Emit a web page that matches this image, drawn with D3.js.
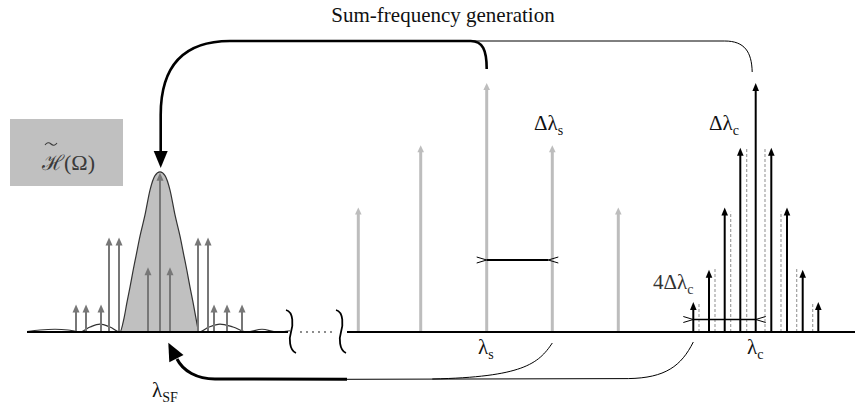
<!DOCTYPE html>
<html>
<head>
<meta charset="utf-8">
<script src="https://cdn.jsdelivr.net/npm/d3@7"></script>
<style>
  body { margin: 0; background: #fff; }
</style>
</head>
<body>
<div id="chart"></div>
<script>
var W = 855, H = 407;

// sum-frequency comb (grey), positions along axis and relative heights
var sfPos = [76, 86, 101, 109, 119, 148, 160, 170, 198, 208, 214, 227, 242];
var sfAmp = [0.11, 0.11, 0.11, 0.38, 0.38, 0.26, 0.64, 0.26, 0.38, 0.38, 0.11, 0.11, 0.11];
var sfCenter = 160;
// filter envelope H(Omega): offset from centre, relative height
var envOffset = [-133, -120, -105, -92, -80, -70, -60, -50, -40, -36, -33, -30, -27, -24, -20, -15, -10, -5, 0,
                 5, 10, 15, 20, 24, 27, 30, 33, 36, 39, 49, 60, 73, 87, 102, 117, 130];
var envAmp = [0.002, 0.008, 0.011, 0.008, 0, 0.02, 0.032, 0.02, 0, 0.055, 0.12, 0.18, 0.245, 0.305, 0.385, 0.47, 0.57, 0.628, 0.643,
              0.628, 0.57, 0.47, 0.385, 0.305, 0.245, 0.18, 0.12, 0.055, 0, 0.02, 0.032, 0.02, 0, 0.011, 0, 0.005];
// signal lines (light grey)
var sigPos = [358.3, 420.7, 486.7, 552.3, 618.3];
var sigAmp = [0.5, 0.75, 1, 0.75, 0.5];
// control comb (black)
var combPos = [693.3, 709, 724.7, 740.3, 755.7, 771.3, 787, 802.7, 818.3];
var combAmp = [0.12, 0.25, 0.5, 0.74, 1, 0.74, 0.5, 0.25, 0.12];
// shifted comb (dashed)
var dashPos = [699, 715, 730.7, 746.7, 765, 781, 796.7, 812.7];
var dashAmp = [0.116, 0.253, 0.483, 0.743, 0.743, 0.483, 0.253, 0.116];
// axis pieces and break
var axisSegs = [[27, 288], [347, 855]];
var breakPos = [291, 341];
var dotPos = [301, 307, 313, 319, 325, 331];

// pick a serif face that is really installed
function pickFont(list) {
  var c = document.createElement('canvas').getContext('2d');
  var probe = 'Sum-frequency generation Δλ';
  c.font = '40px monospace';
  var base = c.measureText(probe).width;
  for (var i = 0; i < list.length; i++) {
    c.font = '40px "' + list[i] + '", monospace';
    if (Math.abs(c.measureText(probe).width - base) > 0.5) return '"' + list[i] + '"';
  }
  return 'serif';
}
var SERIF = pickFont(['Liberation Serif', 'Times New Roman', 'Tinos', 'DejaVu Serif', 'Noto Serif', 'FreeSerif', 'Nimbus Roman', 'Times']) + ', serif';

var x = d3.scaleLinear().domain([0, W]).range([0, W]);
var y = d3.scaleLinear().domain([0, 1]).range([332, 83]);
var y0 = y(0);

var svg = d3.select('#chart').append('svg')
  .attr('width', W).attr('height', H)
  .attr('font-family', SERIF);

// envelope
var envPts = envOffset.map(function(o, i) { return [sfCenter + o, envAmp[i]]; });
var mainLobe = envPts.filter(function(p) { return p[0] >= sfCenter - 40 && p[0] <= sfCenter + 39; });
svg.append('path')
  .datum(mainLobe)
  .attr('d', d3.area().x(function(d) { return x(d[0]); }).y0(y0).y1(function(d) { return y(d[1]); }).curve(d3.curveMonotoneX))
  .style('fill', '#c0c0c0');
svg.append('path')
  .datum(envPts)
  .attr('d', d3.line().x(function(d) { return x(d[0]); }).y(function(d) { return y(d[1]); }).curve(d3.curveMonotoneX))
  .style('fill', 'none').style('stroke', '#333').style('stroke-width', 1.2);

// generic arrow helper
function arrows(pos, amp, color, sw, hl, hw) {
  var g = svg.append('g');
  pos.forEach(function(p, i) {
    var tx = x(p), ty = y(amp[i]);
    g.append('line')
      .attr('x1', tx).attr('x2', tx)
      .attr('y1', y0).attr('y2', ty + hl - 1)
      .style('stroke', color).style('stroke-width', sw);
    g.append('path')
      .attr('d', 'M' + tx + ',' + ty + 'L' + (tx - hw) + ',' + (ty + hl) + 'L' + (tx + hw) + ',' + (ty + hl) + 'Z')
      .style('fill', color);
  });
}

arrows(sfPos, sfAmp, '#777', 2, 8, 3.5);

// dashed shifted lines
svg.append('g').selectAll('line')
  .data(dashPos)
  .enter().append('line')
  .attr('x1', function(d) { return x(d); }).attr('x2', function(d) { return x(d); })
  .attr('y1', y0).attr('y2', function(d, i) { return y(dashAmp[i]); })
  .style('stroke', '#999').style('stroke-width', 1.1).style('stroke-dasharray', '3,2');

arrows(sigPos, sigAmp, '#bdbdbd', 3, 7, 3.3);
arrows(combPos, combAmp, '#000', 2, 8, 3.3);

// axis
axisSegs.forEach(function(s) {
  svg.append('line')
    .attr('x1', x(s[0])).attr('x2', x(s[1]))
    .attr('y1', y0).attr('y2', y0)
    .style('stroke', '#000').style('stroke-width', 2);
});
breakPos.forEach(function(b) {
  var bx = x(b);
  svg.append('path')
    .attr('d', 'M' + (bx - 5) + ',' + (y0 - 22) + 'C' + (bx + 3) + ',' + (y0 - 20) + ' ' + (bx + 2) + ',' + (y0 - 6) + ' ' + bx + ',' + y0 +
               'C' + (bx - 2) + ',' + (y0 + 6) + ' ' + (bx - 2) + ',' + (y0 + 18) + ' ' + (bx + 5) + ',' + (y0 + 21))
    .style('fill', 'none').style('stroke', '#000').style('stroke-width', 1.8);
});
svg.append('g').selectAll('circle')
  .data(dotPos)
  .enter().append('circle')
  .attr('cx', function(d) { return x(d); }).attr('cy', y0)
  .attr('r', 0.9).style('fill', '#555');

// spacing brackets
function bracket(a, b, yy, sw) {
  var xa = x(a), xb = x(b);
  svg.append('line').attr('x1', xa).attr('x2', xb).attr('y1', yy).attr('y2', yy)
    .style('stroke', '#000').style('stroke-width', sw);
  svg.append('path')
    .attr('d', 'M' + (xa - 10) + ',' + (yy - 3) + 'L' + xa + ',' + yy + 'L' + (xa - 10) + ',' + (yy + 3) +
               'M' + (xb + 10) + ',' + (yy - 3) + 'L' + xb + ',' + yy + 'L' + (xb + 10) + ',' + (yy + 3))
    .style('fill', 'none').style('stroke', '#000').style('stroke-width', 1);
}
bracket(sigPos[2], sigPos[3] - 4, 260, 2);
bracket(combPos[0], combPos[4], 319.5, 1.6);

// top process arrows
var sx = x(sigPos[2]), cx = x(combPos[4]) - 3, hx = x(sfCenter) + 0.7;
svg.append('path')
  .attr('d', 'M' + (cx - 0.5) + ',72 C' + (cx - 1) + ',52 ' + (cx - 8) + ',41 ' + (cx - 28) + ',41 L' + (sx - 16) + ',41')
  .style('fill', 'none').style('stroke', '#000').style('stroke-width', 1);
svg.append('path')
  .attr('d', 'M' + sx + ',69 C' + sx + ',50 ' + (sx - 4) + ',41 ' + (sx - 16) + ',41 L230,41 C185,41 ' + hx + ',65 ' + hx + ',115 L' + hx + ',153')
  .style('fill', 'none').style('stroke', '#000').style('stroke-width', 2.6);
svg.append('path')
  .attr('d', 'M' + hx + ',168 L' + (hx - 7) + ',151 L' + (hx + 7) + ',151 Z')
  .style('fill', '#000');

// bottom process arrows
var c0 = x(combPos[0]), s3 = x(sigPos[3]);
svg.append('path')
  .attr('d', 'M' + c0 + ',342 C' + (c0 - 12) + ',366 ' + (c0 - 28) + ',378 ' + (c0 - 65) + ',378.6 L347,379.3')
  .style('fill', 'none').style('stroke', '#000').style('stroke-width', 1);
svg.append('path')
  .attr('d', 'M' + s3 + ',343 C' + (s3 - 14) + ',364 ' + (s3 - 30) + ',377 ' + (s3 - 120) + ',379')
  .style('fill', 'none').style('stroke', '#000').style('stroke-width', 1);
svg.append('path')
  .attr('d', 'M347,379.3 L215,379 C197,379 183,371 177,359')
  .style('fill', 'none').style('stroke', '#000').style('stroke-width', 3);
svg.append('path')
  .attr('d', 'M168.3,342.7 L183.5,355.1 L169.3,362.3 Z')
  .style('fill', '#000');

// filter box
svg.append('rect')
  .attr('x', 10).attr('y', 119).attr('width', 113).attr('height', 67)
  .style('fill', '#c0c0c0');
var hl = svg.append('text').attr('x', 42).attr('y', 170)
  .style('font-size', '22px').style('fill', '#3a3a3a');
hl.append('tspan').text('ℋ').style('font-size', '21px');
hl.append('tspan').text('(Ω)');
// tilde over the H
svg.append('path')
  .attr('d', 'M45,145 q3,-4 6,-1 t6,-1')
  .style('fill', 'none').style('stroke', '#3a3a3a').style('stroke-width', 1.1);

// labels
function lab(tx, ty, main, sub, size) {
  var t = svg.append('text').attr('x', tx).attr('y', ty)
    .style('font-size', size + 'px').style('fill', '#111');
  t.append('tspan').text(main);
  t.append('tspan').text(sub).attr('dy', 5).style('font-size', Math.round(size * 0.68) + 'px');
  return t;
}
svg.append('text').attr('x', 443).attr('y', 22).attr('text-anchor', 'middle')
  .text('Sum-frequency generation').style('font-size', '21px').style('fill', '#111');
lab(534, 130, 'Δλ', 's', 21);
lab(709, 130, 'Δλ', 'c', 21);
lab(653, 289, '4Δλ', 'c', 21).style('fill', '#333');
lab(478, 354, 'λ', 's', 21);
lab(747, 354, 'λ', 'c', 21);
lab(152, 397, 'λ', 'SF', 21);
</script>
</body>
</html>
